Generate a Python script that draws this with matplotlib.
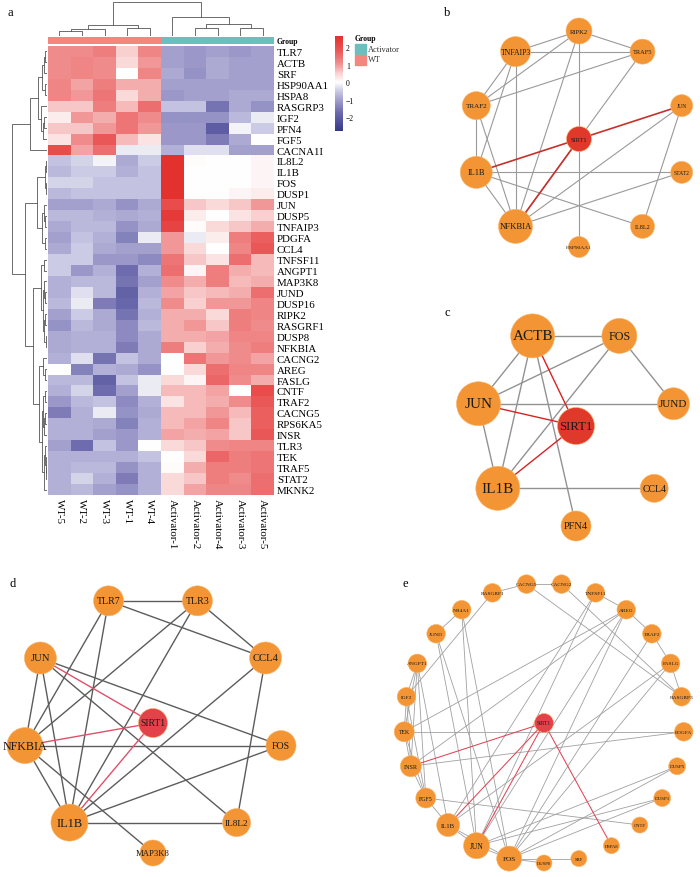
import numpy as np
import matplotlib.pyplot as plt
from matplotlib.colors import LinearSegmentedColormap, Normalize
from matplotlib.cm import ScalarMappable
from matplotlib.patches import Circle, Rectangle

plt.rcParams['font.family'] = ['Liberation Serif', 'DejaVu Serif']

# ---------------- heatmap data (panel a) ----------------
genes = ['TLR7', 'ACTB', 'SRF', 'HSP90AA1', 'HSPA8', 'RASGRP3', 'IGF2', 'PFN4',
         'FGF5', 'CACNA1I', 'IL8L2', 'IL1B', 'FOS', 'DUSP1', 'JUN', 'DUSP5',
         'TNFAIP3', 'PDGFA', 'CCL4', 'TNFSF11', 'ANGPT1', 'MAP3K8', 'JUND',
         'DUSP16', 'RIPK2', 'RASGRF1', 'DUSP8', 'NFKBIA', 'CACNG2', 'AREG',
         'FASLG', 'CNTF', 'TRAF2', 'CACNG5', 'RPS6KA5', 'INSR', 'TLR3', 'TEK',
         'TRAF5', 'STAT2', 'MKNK2']
samples = ['WT-5', 'WT-2', 'WT-3', 'WT-1', 'WT-4',
           'Activator-1', 'Activator-2', 'Activator-4', 'Activator-3', 'Activator-5']
groups = ['WT'] * 5 + ['Activator'] * 5

expr = np.array([
    [1.1, 1.1, 1.3, 0.5, 1.2, -1.0, -1.1, -1.0, -1.1, -1.0],
    [1.1, 1.2, 1.1, 0.4, 1.0, -1.0, -1.1, -0.9, -1.0, -1.0],
    [1.1, 1.2, 1.1, 0.0, 1.2, -0.9, -1.2, -0.9, -1.0, -1.0],
    [1.2, 0.9, 1.3, 0.8, 0.8, -1.0, -1.0, -1.0, -1.0, -1.0],
    [1.2, 1.0, 1.4, 0.4, 0.8, -1.1, -1.0, -1.0, -0.9, -0.9],
    [0.6, 0.6, 1.3, 0.7, 1.5, -0.6, -0.6, -1.6, -0.9, -1.2],
    [0.2, 1.0, 0.8, 1.4, 1.1, -1.2, -1.2, -1.2, -0.7, -0.2],
    [0.6, 0.6, 1.0, 1.4, 1.0, -1.1, -1.1, -2.0, -0.1, -0.5],
    [0.3, 1.1, 1.8, 0.7, 0.3, -1.1, -1.1, -1.5, -0.9, 0.0],
    [2.0, 0.9, 1.5, -0.2, -0.2, -0.8, -0.3, -0.3, -1.0, -1.0],
    [-0.6, -0.4, -0.1, -0.9, -0.5, 2.6, 0.05, 0.0, 0.0, 0.1],
    [-0.7, -0.5, -0.5, -0.8, -0.6, 2.6, 0.0, 0.0, 0.0, 0.1],
    [-0.4, -0.4, -0.6, -0.6, -0.6, 2.6, 0.0, 0.0, 0.0, 0.1],
    [-0.7, -0.6, -0.6, -0.6, -0.6, 2.6, 0.0, 0.0, 0.1, 0.2],
    [-1.0, -1.0, -0.9, -1.2, -0.9, 2.0, 0.6, 0.4, 0.6, 1.0],
    [-0.7, -0.7, -0.8, -0.9, -0.8, 2.4, 0.2, 0.0, 0.3, 0.5],
    [-0.9, -0.7, -0.7, -1.2, -0.9, 2.2, 0.05, 0.4, 0.6, 0.8],
    [-1.0, -0.6, -0.8, -1.4, -0.2, 1.0, -0.2, 0.2, 1.3, 1.7],
    [-0.9, -0.5, -0.9, -1.0, -1.0, 1.0, 0.4, 0.0, 1.2, 1.8],
    [-0.5, -0.5, -1.1, -1.1, -1.3, 1.4, 0.6, 0.3, 1.5, 0.7],
    [-0.5, -1.1, -0.8, -1.7, -0.8, 1.5, 0.1, 1.3, 0.8, 0.7],
    [-0.8, -0.7, -0.7, -1.6, -1.0, 1.1, 0.8, 1.3, 0.7, 0.8],
    [-0.8, -0.3, -0.7, -1.9, -0.8, 0.9, 0.6, 0.7, 0.8, 1.5],
    [-0.7, -0.2, -1.5, -1.8, -0.7, 1.1, 0.5, 1.0, 1.0, 1.2],
    [-1.0, -0.5, -0.9, -1.6, -0.8, 0.8, 0.8, 0.4, 1.3, 1.2],
    [-1.2, -0.7, -0.9, -1.3, -0.7, 0.8, 1.0, 0.6, 1.3, 1.1],
    [-0.9, -0.8, -0.8, -1.3, -0.9, 0.8, 0.8, 0.9, 1.2, 1.2],
    [-0.9, -0.8, -0.8, -1.5, -0.9, 1.3, 0.5, 0.8, 1.1, 1.3],
    [-0.8, -0.3, -1.6, -0.6, -0.9, 0.0, 1.4, 1.0, 1.1, 0.9],
    [0.0, -1.4, -0.8, -0.9, -1.2, 0.0, 0.4, 1.5, 1.2, 1.2],
    [-0.7, -0.7, -1.9, -0.6, -0.2, 0.4, 0.1, 1.6, 1.1, 0.8],
    [-0.8, -0.4, -1.7, -1.0, -0.2, 0.7, 0.7, 0.9, 0.0, 2.0],
    [-1.1, -0.7, -0.6, -1.3, -0.8, 0.3, 0.7, 0.8, 1.1, 1.8],
    [-1.5, -0.8, -0.2, -1.2, -0.9, 0.7, 0.7, 1.0, 0.7, 1.7],
    [-0.8, -0.8, -0.9, -1.4, -0.8, 0.7, 0.9, 1.2, 0.6, 1.7],
    [-0.8, -0.8, -1.0, -1.1, -0.8, 0.9, 0.8, 0.9, 0.6, 1.8],
    [-1.0, -1.7, -0.6, -1.1, 0.0, 0.4, 0.6, 1.1, 1.2, 1.2],
    [-0.8, -0.8, -0.8, -0.8, -0.6, 0.0, 0.4, 1.6, 1.3, 1.4],
    [-0.8, -0.7, -0.7, -1.2, -0.8, 0.05, 0.8, 1.3, 1.3, 1.4],
    [-0.8, -0.4, -0.8, -1.5, -0.8, 0.4, 0.6, 1.3, 1.1, 1.5],
    [-0.8, -0.7, -1.0, -1.2, -0.8, 0.4, 0.9, 1.2, 1.2, 1.5],
])

# dendrograms: (left, right, merge height), leaves are row/column indices
col_tree = ((((0, 1, 5), 2, 7), (3, 4, 8), 11),
            (5, ((6, 7, 8), (8, 9, 8), 12), 19), 34)
tree_A = (((((0, 1, 2), 2, 3), (3, 4, 2.5), 5),
           (5, ((6, 7, 3), 8, 4.5), 6), 9), 9, 17)
tree_B1 = (((10, 11, 1), (12, 13, 1.5), 2.5),
           ((14, (15, 16, 2), 3.5), (17, 18, 2.5), 5), 10)
tree_B2a = ((19, 20, 3),
            ((21, (22, 23, 2), 3), ((24, 25, 2), (26, 27, 1.5), 3), 4), 6)
tree_B2b = ((28, (29, 30, 2), 4),
            (((31, 32, 2.5), ((33, 34, 2), 35, 3), 4),
             ((36, (37, (38, 39, 1), 1.5), 2.5), 40, 3.5), 5), 8)
row_tree = (tree_A, (tree_B1, (tree_B2a, tree_B2b, 14), 22), 35)

# ---------------- networks (panels b-e) ----------------
nodes_b = ['RIPK2', 'TRAF5', 'JUN', 'STAT2', 'IL8L2', 'HSP90AA1', 'NFKBIA',
           'IL1B', 'TRAF2', 'TNFAIP3']
edges_b = [('RIPK2', 'TNFAIP3'), ('RIPK2', 'TRAF5'), ('RIPK2', 'TRAF2'),
           ('RIPK2', 'NFKBIA'), ('RIPK2', 'HSP90AA1'), ('TNFAIP3', 'TRAF5'),
           ('TNFAIP3', 'TRAF2'), ('TNFAIP3', 'IL1B'), ('TNFAIP3', 'NFKBIA'),
           ('TRAF5', 'TRAF2'), ('TRAF5', 'NFKBIA'), ('TRAF2', 'IL1B'),
           ('TRAF2', 'NFKBIA'), ('IL1B', 'NFKBIA'), ('IL1B', 'STAT2'),
           ('IL1B', 'IL8L2'), ('NFKBIA', 'JUN'), ('NFKBIA', 'STAT2'),
           ('JUN', 'IL8L2'), ('SIRT1', 'JUN'), ('SIRT1', 'IL1B'), ('SIRT1', 'NFKBIA')]

nodes_c = ['ACTB', 'FOS', 'JUND', 'CCL4', 'PFN4', 'IL1B', 'JUN']
edges_c = [('ACTB', 'FOS'), ('ACTB', 'JUN'), ('ACTB', 'IL1B'), ('ACTB', 'PFN4'),
           ('FOS', 'JUN'), ('FOS', 'IL1B'), ('FOS', 'JUND'), ('JUN', 'JUND'),
           ('JUN', 'IL1B'), ('IL1B', 'CCL4'),
           ('SIRT1', 'ACTB'), ('SIRT1', 'JUN'), ('SIRT1', 'IL1B')]

nodes_d = ['TLR7', 'TLR3', 'CCL4', 'FOS', 'IL8L2', 'MAP3K8', 'IL1B', 'NFKBIA', 'JUN']
edges_d = [('TLR7', 'TLR3'), ('TLR7', 'CCL4'), ('TLR7', 'NFKBIA'), ('TLR7', 'IL1B'),
           ('TLR3', 'CCL4'), ('TLR3', 'NFKBIA'), ('TLR3', 'IL1B'), ('CCL4', 'IL8L2'),
           ('CCL4', 'IL1B'), ('JUN', 'NFKBIA'), ('JUN', 'IL1B'), ('JUN', 'FOS'),
           ('JUN', 'IL8L2'), ('NFKBIA', 'FOS'), ('NFKBIA', 'IL1B'),
           ('NFKBIA', 'MAP3K8'), ('IL1B', 'FOS'), ('IL1B', 'IL8L2'),
           ('SIRT1', 'JUN'), ('SIRT1', 'NFKBIA'), ('SIRT1', 'IL1B')]

nodes_e = ['CACNG5', 'CACNG2', 'TNFSF11', 'AREG', 'TRAF2', 'FASLG', 'RASGRP3',
           'PDGFA', 'DUSP5', 'DUSP1', 'CNTF', 'HSPA8', 'SRF', 'DUSP8', 'FOS',
           'JUN', 'IL1B', 'FGF5', 'INSR', 'TEK', 'IGF2', 'ANGPT1', 'JUND',
           'NR4A1', 'RASGRF1']
edges_e = [('CACNG5', 'CACNG2'), ('RASGRF1', 'CACNG5'), ('CACNG5', 'RASGRP3'),
           ('CACNG2', 'RASGRP3'), ('TNFSF11', 'AREG'), ('AREG', 'TRAF2'),
           ('TRAF2', 'FASLG'), ('FASLG', 'RASGRP3'), ('NR4A1', 'JUND'),
           ('NR4A1', 'JUN'), ('NR4A1', 'FOS'), ('RASGRF1', 'IGF2'),
           ('JUND', 'JUN'), ('JUND', 'FOS'), ('ANGPT1', 'IGF2'), ('ANGPT1', 'TEK'),
           ('ANGPT1', 'INSR'), ('ANGPT1', 'FGF5'), ('ANGPT1', 'IL1B'),
           ('IGF2', 'TEK'), ('IGF2', 'INSR'), ('IGF2', 'FGF5'), ('TEK', 'INSR'),
           ('TEK', 'PDGFA'), ('TEK', 'AREG'), ('TEK', 'FGF5'), ('INSR', 'FGF5'),
           ('INSR', 'AREG'), ('INSR', 'PDGFA'), ('FGF5', 'IL1B'), ('FGF5', 'CNTF'),
           ('IL1B', 'JUN'), ('IL1B', 'FOS'), ('IL1B', 'TNFSF11'), ('IL1B', 'FASLG'),
           ('JUN', 'FOS'), ('JUN', 'TNFSF11'), ('JUN', 'AREG'), ('JUN', 'DUSP5'),
           ('JUN', 'DUSP1'), ('FOS', 'DUSP8'), ('FOS', 'SRF'), ('FOS', 'DUSP5'),
           ('FOS', 'DUSP1'), ('FOS', 'TRAF2'), ('FOS', 'FASLG'), ('FOS', 'AREG'),
           ('SIRT1', 'INSR'), ('SIRT1', 'IL1B'), ('SIRT1', 'JUN'), ('SIRT1', 'HSPA8')]

# ---------------- figure ----------------
W, H = 700, 878
fig = plt.figure(figsize=(W / 100, H / 100), dpi=100)


def px_axes(x0, y0, x1, y1):
    return fig.add_axes([x0 / W, 1 - y1 / H, (x1 - x0) / W, (y1 - y0) / H])


ov = px_axes(0, 0, W, H)
ov.set_xlim(0, W)
ov.set_ylim(H, 0)
ov.axis('off')

vmin, vmax = -2.8, 2.65
z = -vmin / (vmax - vmin)
cmap = LinearSegmentedColormap.from_list('nwr', [
    (0.0, '#35388A'), (0.20, '#6E6CAE'), (0.33, '#A4A1CE'), (0.42, '#CACAE4'),
    (z, '#FFFFFF'), (0.61, '#F9CFCF'), (0.716, '#F08C8C'), (0.85, '#EA5656'),
    (1.0, '#E3302B')])
norm = Normalize(vmin=vmin, vmax=vmax)

ax_hm = px_axes(48, 47, 274, 496)
ax_hm.imshow(expr, cmap=cmap, norm=norm, aspect='auto', interpolation='nearest')
ax_hm.set_yticks(np.arange(len(genes)))
ax_hm.set_yticklabels(genes, fontsize=7.8)
ax_hm.yaxis.tick_right()
ax_hm.set_xticks(np.arange(len(samples)))
ax_hm.set_xticklabels(samples, fontsize=7.8, rotation=270, va='top', ha='center')
ax_hm.tick_params(length=0, pad=2)
for s in ax_hm.spines.values():
    s.set_visible(False)

group_colors = {'Activator': '#68C1BF', 'WT': '#F3867F'}
ax_grp = px_axes(48, 38, 274, 44.5)
ax_grp.bar(np.arange(len(groups)) + 0.5, 1, width=1.0,
           color=[group_colors[g] for g in groups])
ax_grp.set_xlim(0, len(groups))
ax_grp.set_ylim(0, 1)
ax_grp.axis('off')
ov.text(277, 41.5, 'Group', fontsize=5.5, fontweight='bold', va='center')


def draw_tree(ax, node, vertical):
    if isinstance(node, int):
        return node + 0.5, 0.0
    left, right, h = node
    pl, hl = draw_tree(ax, left, vertical)
    pr, hr = draw_tree(ax, right, vertical)
    a = [pl, pl, pr, pr]
    b = [hl, h, h, hr]
    if vertical:
        ax.plot(a, b, color='#555555', lw=0.6)
    else:
        ax.plot(b, a, color='#555555', lw=0.6)
    return (pl + pr) / 2, h


ax_cd = px_axes(48, 2.5, 274, 37)
draw_tree(ax_cd, col_tree, True)
ax_cd.set_xlim(0, len(samples))
ax_cd.set_ylim(0, 34.5)
ax_cd.axis('off')

ax_rd = px_axes(10, 47, 47, 496)
draw_tree(ax_rd, row_tree, False)
ax_rd.set_xlim(37, 0)
ax_rd.set_ylim(len(genes), 0)
ax_rd.axis('off')

cax = px_axes(335, 37, 343, 132)
cb = fig.colorbar(ScalarMappable(norm=norm, cmap=cmap), cax=cax, ticks=[-2, -1, 0, 1, 2])
cb.outline.set_visible(False)
cb.set_ticklabels(['\u22122', '\u22121', '0', '1', '2'])
cax.tick_params(length=0, labelsize=5.5, pad=2)

ov.text(355, 39, 'Group', fontsize=5.5, fontweight='bold', va='center')
for i, g in enumerate(['Activator', 'WT']):
    ov.add_patch(Rectangle((355, 45 + i * 10.5), 11, 10, color=group_colors[g]))
    ov.text(368, 50 + i * 10.5, g, fontsize=6, va='center', color='#333333')

# ---------------- network drawing ----------------
ORANGE = '#F39435'


def draw_net(nodes, edges, cx, cy, R, start, radii, fscale, ecol, elw, rcol, rlw, hub):
    n = len(nodes)
    ang = np.deg2rad(start - 360.0 / n * np.arange(n))
    pos = {nm: (cx + R * np.cos(a), cy - R * np.sin(a)) for nm, a in zip(nodes, ang)}
    pos['SIRT1'] = (cx, cy)
    for a, b in edges:
        red = 'SIRT1' in (a, b)
        ov.plot([pos[a][0], pos[b][0]], [pos[a][1], pos[b][1]],
                color=rcol if red else ecol, lw=rlw if red else elw,
                zorder=2 if red else 1, solid_capstyle='butt')
    for nm, (x, y) in pos.items():
        r = radii.get(nm, radii['_'])
        ov.add_patch(Circle((x, y), r, fc=hub if nm == 'SIRT1' else ORANGE,
                            ec='#F7B56A', lw=0.4, zorder=3))
        ov.text(x, y, nm, fontsize=r * fscale, ha='center', va='center',
                color='#1a1a1a', zorder=4)


radii_b = {'RIPK2': 13, 'TNFAIP3': 15, 'TRAF5': 12.5, 'TRAF2': 14, 'JUN': 11,
           'IL1B': 16, 'STAT2': 11, 'NFKBIA': 17, 'IL8L2': 12, 'HSP90AA1': 10.5,
           'SIRT1': 12.5, '_': 12}
draw_net(nodes_b, edges_b, 579, 140, 108, 90, radii_b, 0.37,
         '#9A9A9A', 0.8, '#C8302B', 1.2, '#E0392C')

radii_c = {'ACTB': 22, 'FOS': 17.5, 'JUN': 22, 'IL1B': 22, 'JUND': 16, 'CCL4': 14,
           'PFN4': 15, 'SIRT1': 18.5, '_': 15}
draw_net(nodes_c, edges_c, 576, 427, 100, 90 + 180 / 7, radii_c, 0.5,
         '#929292', 1.0, '#D42424', 1.0, '#E0392C')

radii_d = {'TLR7': 15, 'TLR3': 15, 'CCL4': 16, 'FOS': 15, 'IL8L2': 14, 'MAP3K8': 13,
           'IL1B': 18.5, 'NFKBIA': 18, 'JUN': 16, 'SIRT1': 14.5, '_': 14}
draw_net(nodes_d, edges_d, 153, 724, 130, 90 + 180 / 9, radii_d, 0.48,
         '#5C5C5C', 1.0, '#E0506A', 1.0, '#E4424A')

radii_e = {'FOS': 12.5, 'JUN': 13, 'IL1B': 11.5, 'FGF5': 10, 'INSR': 10.5, 'TEK': 10,
           'SRF': 8, 'DUSP8': 8, 'HSPA8': 8, 'CNTF': 8, 'DUSP1': 8.5, 'DUSP5': 8.5,
           'SIRT1': 9.5, '_': 9.3}
draw_net(nodes_e, edges_e, 544, 724, 140, 90 + 180 / 25, radii_e, 0.42,
         '#A0A0A0', 0.6, '#E04555', 0.75, '#E4424A')

for lbl, x, y in [('a', 10, 13), ('b', 447, 13), ('c', 447, 313),
                  ('d', 13, 584), ('e', 405, 584)]:
    ov.text(x, y, lbl, fontsize=9, ha='center', va='center')

fig.savefig('out.png', dpi=100)
